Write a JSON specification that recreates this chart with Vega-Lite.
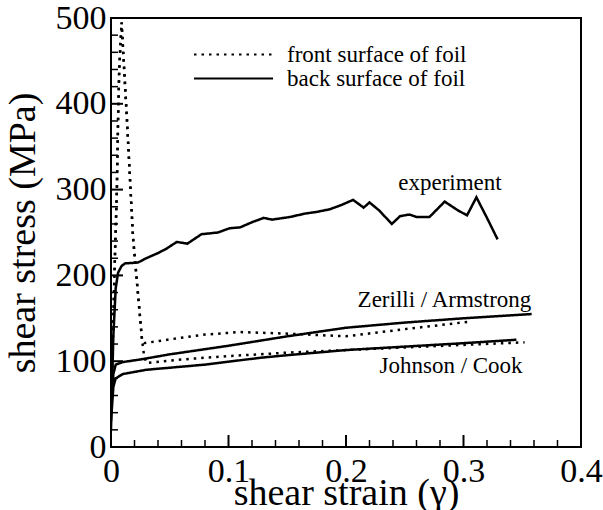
{
  "$schema": "https://vega.github.io/schema/vega-lite/v6.json",
  "autosize": "none",
  "width": 470,
  "height": 429,
  "padding": {"left": 111, "top": 18, "right": 22, "bottom": 63},
  "background": "white",
  "config": {
    "view": {"stroke": "black", "strokeWidth": 2}
  },
  "datasets": {
    "curves": [
      {"series": "exp", "surface": "back surface of foil", "x": 0.0, "y": 20},
      {"series": "exp", "surface": "back surface of foil", "x": 0.0005, "y": 50},
      {"series": "exp", "surface": "back surface of foil", "x": 0.002, "y": 130},
      {"series": "exp", "surface": "back surface of foil", "x": 0.004, "y": 185},
      {"series": "exp", "surface": "back surface of foil", "x": 0.006, "y": 203},
      {"series": "exp", "surface": "back surface of foil", "x": 0.009, "y": 211},
      {"series": "exp", "surface": "back surface of foil", "x": 0.012, "y": 214},
      {"series": "exp", "surface": "back surface of foil", "x": 0.023, "y": 215},
      {"series": "exp", "surface": "back surface of foil", "x": 0.03, "y": 220},
      {"series": "exp", "surface": "back surface of foil", "x": 0.04, "y": 226},
      {"series": "exp", "surface": "back surface of foil", "x": 0.047, "y": 231},
      {"series": "exp", "surface": "back surface of foil", "x": 0.056, "y": 239},
      {"series": "exp", "surface": "back surface of foil", "x": 0.065, "y": 237},
      {"series": "exp", "surface": "back surface of foil", "x": 0.077, "y": 248},
      {"series": "exp", "surface": "back surface of foil", "x": 0.091, "y": 250},
      {"series": "exp", "surface": "back surface of foil", "x": 0.101, "y": 255},
      {"series": "exp", "surface": "back surface of foil", "x": 0.11, "y": 256},
      {"series": "exp", "surface": "back surface of foil", "x": 0.12, "y": 262},
      {"series": "exp", "surface": "back surface of foil", "x": 0.13, "y": 267},
      {"series": "exp", "surface": "back surface of foil", "x": 0.137, "y": 265},
      {"series": "exp", "surface": "back surface of foil", "x": 0.152, "y": 268},
      {"series": "exp", "surface": "back surface of foil", "x": 0.165, "y": 272},
      {"series": "exp", "surface": "back surface of foil", "x": 0.175, "y": 274},
      {"series": "exp", "surface": "back surface of foil", "x": 0.186, "y": 277},
      {"series": "exp", "surface": "back surface of foil", "x": 0.196, "y": 282},
      {"series": "exp", "surface": "back surface of foil", "x": 0.206, "y": 288},
      {"series": "exp", "surface": "back surface of foil", "x": 0.215, "y": 279},
      {"series": "exp", "surface": "back surface of foil", "x": 0.22, "y": 285},
      {"series": "exp", "surface": "back surface of foil", "x": 0.228, "y": 276},
      {"series": "exp", "surface": "back surface of foil", "x": 0.239, "y": 260},
      {"series": "exp", "surface": "back surface of foil", "x": 0.246, "y": 269},
      {"series": "exp", "surface": "back surface of foil", "x": 0.254, "y": 271},
      {"series": "exp", "surface": "back surface of foil", "x": 0.26, "y": 268},
      {"series": "exp", "surface": "back surface of foil", "x": 0.271, "y": 268},
      {"series": "exp", "surface": "back surface of foil", "x": 0.284, "y": 286},
      {"series": "exp", "surface": "back surface of foil", "x": 0.295, "y": 276},
      {"series": "exp", "surface": "back surface of foil", "x": 0.303, "y": 270},
      {"series": "exp", "surface": "back surface of foil", "x": 0.311, "y": 291},
      {"series": "exp", "surface": "back surface of foil", "x": 0.32, "y": 267},
      {"series": "exp", "surface": "back surface of foil", "x": 0.329, "y": 242},

      {"series": "za_back", "surface": "back surface of foil", "x": 0.0, "y": 40},
      {"series": "za_back", "surface": "back surface of foil", "x": 0.002, "y": 85},
      {"series": "za_back", "surface": "back surface of foil", "x": 0.004, "y": 96},
      {"series": "za_back", "surface": "back surface of foil", "x": 0.01, "y": 99},
      {"series": "za_back", "surface": "back surface of foil", "x": 0.025, "y": 102},
      {"series": "za_back", "surface": "back surface of foil", "x": 0.05, "y": 108},
      {"series": "za_back", "surface": "back surface of foil", "x": 0.08, "y": 114},
      {"series": "za_back", "surface": "back surface of foil", "x": 0.1, "y": 118},
      {"series": "za_back", "surface": "back surface of foil", "x": 0.15, "y": 129},
      {"series": "za_back", "surface": "back surface of foil", "x": 0.2, "y": 139},
      {"series": "za_back", "surface": "back surface of foil", "x": 0.25, "y": 145},
      {"series": "za_back", "surface": "back surface of foil", "x": 0.3, "y": 150},
      {"series": "za_back", "surface": "back surface of foil", "x": 0.358, "y": 155},

      {"series": "jc_back", "surface": "back surface of foil", "x": 0.0, "y": 30},
      {"series": "jc_back", "surface": "back surface of foil", "x": 0.002, "y": 70},
      {"series": "jc_back", "surface": "back surface of foil", "x": 0.004, "y": 80},
      {"series": "jc_back", "surface": "back surface of foil", "x": 0.01, "y": 85},
      {"series": "jc_back", "surface": "back surface of foil", "x": 0.03, "y": 90},
      {"series": "jc_back", "surface": "back surface of foil", "x": 0.08, "y": 96},
      {"series": "jc_back", "surface": "back surface of foil", "x": 0.127, "y": 104},
      {"series": "jc_back", "surface": "back surface of foil", "x": 0.15, "y": 107},
      {"series": "jc_back", "surface": "back surface of foil", "x": 0.2, "y": 113},
      {"series": "jc_back", "surface": "back surface of foil", "x": 0.25, "y": 117},
      {"series": "jc_back", "surface": "back surface of foil", "x": 0.3, "y": 121},
      {"series": "jc_back", "surface": "back surface of foil", "x": 0.345, "y": 125},

      {"series": "za_front", "surface": "front surface of foil", "x": 0.0, "y": 40},
      {"series": "za_front", "surface": "front surface of foil", "x": 0.002, "y": 150},
      {"series": "za_front", "surface": "front surface of foil", "x": 0.0035, "y": 230},
      {"series": "za_front", "surface": "front surface of foil", "x": 0.005, "y": 300},
      {"series": "za_front", "surface": "front surface of foil", "x": 0.006, "y": 380},
      {"series": "za_front", "surface": "front surface of foil", "x": 0.007, "y": 440},
      {"series": "za_front", "surface": "front surface of foil", "x": 0.009, "y": 495},
      {"series": "za_front", "surface": "front surface of foil", "x": 0.0136, "y": 381},
      {"series": "za_front", "surface": "front surface of foil", "x": 0.0187, "y": 245},
      {"series": "za_front", "surface": "front surface of foil", "x": 0.0264, "y": 125},
      {"series": "za_front", "surface": "front surface of foil", "x": 0.028, "y": 121},
      {"series": "za_front", "surface": "front surface of foil", "x": 0.053, "y": 126},
      {"series": "za_front", "surface": "front surface of foil", "x": 0.08, "y": 131},
      {"series": "za_front", "surface": "front surface of foil", "x": 0.11, "y": 134},
      {"series": "za_front", "surface": "front surface of foil", "x": 0.152, "y": 132},
      {"series": "za_front", "surface": "front surface of foil", "x": 0.2, "y": 129},
      {"series": "za_front", "surface": "front surface of foil", "x": 0.254, "y": 138},
      {"series": "za_front", "surface": "front surface of foil", "x": 0.305, "y": 146},

      {"series": "jc_front", "surface": "front surface of foil", "x": 0.0, "y": 40},
      {"series": "jc_front", "surface": "front surface of foil", "x": 0.002, "y": 150},
      {"series": "jc_front", "surface": "front surface of foil", "x": 0.0035, "y": 230},
      {"series": "jc_front", "surface": "front surface of foil", "x": 0.005, "y": 300},
      {"series": "jc_front", "surface": "front surface of foil", "x": 0.006, "y": 380},
      {"series": "jc_front", "surface": "front surface of foil", "x": 0.007, "y": 440},
      {"series": "jc_front", "surface": "front surface of foil", "x": 0.009, "y": 495},
      {"series": "jc_front", "surface": "front surface of foil", "x": 0.0136, "y": 381},
      {"series": "jc_front", "surface": "front surface of foil", "x": 0.0187, "y": 245},
      {"series": "jc_front", "surface": "front surface of foil", "x": 0.0264, "y": 125},
      {"series": "jc_front", "surface": "front surface of foil", "x": 0.028, "y": 108},
      {"series": "jc_front", "surface": "front surface of foil", "x": 0.03, "y": 98},
      {"series": "jc_front", "surface": "front surface of foil", "x": 0.06, "y": 102},
      {"series": "jc_front", "surface": "front surface of foil", "x": 0.1, "y": 106},
      {"series": "jc_front", "surface": "front surface of foil", "x": 0.127, "y": 108},
      {"series": "jc_front", "surface": "front surface of foil", "x": 0.15, "y": 110},
      {"series": "jc_front", "surface": "front surface of foil", "x": 0.2, "y": 113},
      {"series": "jc_front", "surface": "front surface of foil", "x": 0.25, "y": 116},
      {"series": "jc_front", "surface": "front surface of foil", "x": 0.3, "y": 119},
      {"series": "jc_front", "surface": "front surface of foil", "x": 0.352, "y": 122}
    ],
    "notes": [
      {"label": "experiment", "x": 0.2885, "y": 299},
      {"label": "Zerilli / Armstrong", "x": 0.2838, "y": 163},
      {"label": "Johnson / Cook", "x": 0.2894, "y": 86}
    ],
    "xmajor": [{"v": 0.1}, {"v": 0.2}, {"v": 0.3}],
    "xminor": [{"v": 0.02}, {"v": 0.04}, {"v": 0.06}, {"v": 0.08}, {"v": 0.12}, {"v": 0.14}, {"v": 0.16}, {"v": 0.18}, {"v": 0.22}, {"v": 0.24}, {"v": 0.26}, {"v": 0.28}, {"v": 0.32}, {"v": 0.34}, {"v": 0.36}, {"v": 0.38}],
    "ymajor": [{"v": 100}, {"v": 200}, {"v": 300}, {"v": 400}],
    "yminor": [{"v": 20}, {"v": 40}, {"v": 60}, {"v": 80}, {"v": 120}, {"v": 140}, {"v": 160}, {"v": 180}, {"v": 220}, {"v": 240}, {"v": 260}, {"v": 280}, {"v": 320}, {"v": 340}, {"v": 360}, {"v": 380}, {"v": 420}, {"v": 440}, {"v": 460}, {"v": 480}]
  },
  "layer": [
    {
      "data": {"name": "curves"},
      "mark": {"type": "line", "color": "black", "strokeWidth": 2.5, "clip": true},
      "encoding": {
        "x": {
          "field": "x", "type": "quantitative",
          "scale": {"domain": [0, 0.4], "nice": false, "zero": false},
          "axis": {
            "orient": "bottom", "values": [0, 0.1, 0.2, 0.3, 0.4], "format": "~g",
            "domain": false, "grid": false, "ticks": false,
            "labelFontSize": 34, "labelFont": "serif", "labelColor": "black", "labelPadding": 7,
            "labelFlush": false, "labelOverlap": false,
            "title": "shear strain (γ)", "titleFontSize": 38, "titleFont": "serif",
            "titleFontWeight": "normal", "titleColor": "black", "titlePadding": -14
          }
        },
        "y": {
          "field": "y", "type": "quantitative",
          "scale": {"domain": [0, 500], "nice": false, "zero": false},
          "axis": {
            "orient": "left", "values": [0, 100, 200, 300, 400, 500],
            "domain": false, "grid": false, "ticks": false,
            "labelFontSize": 34, "labelFont": "serif", "labelColor": "black", "labelPadding": 5,
            "labelFlush": false, "labelOverlap": false,
            "title": "shear stress (MPa)", "titleFontSize": 38, "titleFont": "serif",
            "titleFontWeight": "normal", "titleColor": "black", "titlePadding": 13
          }
        },
        "detail": {"field": "series"},
        "strokeDash": {
          "field": "surface", "type": "nominal",
          "scale": {"domain": ["front surface of foil", "back surface of foil"], "range": [[2.5, 5], [1, 0]]},
          "legend": {
            "orient": "none", "legendX": 82, "legendY": 25, "title": null, "padding": 0,
            "symbolType": "stroke", "symbolSize": 6241, "symbolStrokeWidth": 2, "symbolStrokeColor": "black",
            "clipHeight": 23, "rowPadding": 0, "labelOffset": 13, "labelLimit": 0,
            "labelFontSize": 23, "labelFont": "serif", "labelColor": "black"
          }
        }
      }
    },
    {
      "data": {"name": "notes"},
      "mark": {"type": "text", "fontSize": 23, "font": "serif", "color": "black", "align": "center", "baseline": "alphabetic"},
      "encoding": {
        "x": {"field": "x", "type": "quantitative", "axis": null},
        "y": {"field": "y", "type": "quantitative", "axis": null},
        "text": {"field": "label"}
      }
    },
    {
      "data": {"name": "xmajor"},
      "mark": {"type": "tick", "orient": "vertical", "size": 24, "thickness": 2, "color": "black", "opacity": 1, "clip": true},
      "encoding": {
        "x": {"field": "v", "type": "quantitative", "axis": null},
        "y": {"datum": 0, "type": "quantitative", "axis": null}
      }
    },
    {
      "data": {"name": "xminor"},
      "mark": {"type": "tick", "orient": "vertical", "size": 14, "thickness": 1.5, "color": "black", "opacity": 1, "clip": true},
      "encoding": {
        "x": {"field": "v", "type": "quantitative", "axis": null},
        "y": {"datum": 0, "type": "quantitative", "axis": null}
      }
    },
    {
      "data": {"name": "ymajor"},
      "mark": {"type": "tick", "orient": "horizontal", "size": 24, "thickness": 2, "color": "black", "opacity": 1, "clip": true},
      "encoding": {
        "y": {"field": "v", "type": "quantitative", "axis": null},
        "x": {"datum": 0, "type": "quantitative", "axis": null}
      }
    },
    {
      "data": {"name": "yminor"},
      "mark": {"type": "tick", "orient": "horizontal", "size": 14, "thickness": 1.5, "color": "black", "opacity": 1, "clip": true},
      "encoding": {
        "y": {"field": "v", "type": "quantitative", "axis": null},
        "x": {"datum": 0, "type": "quantitative", "axis": null}
      }
    }
  ],
  "resolve": {"axis": {"x": "independent", "y": "independent"}}
}
